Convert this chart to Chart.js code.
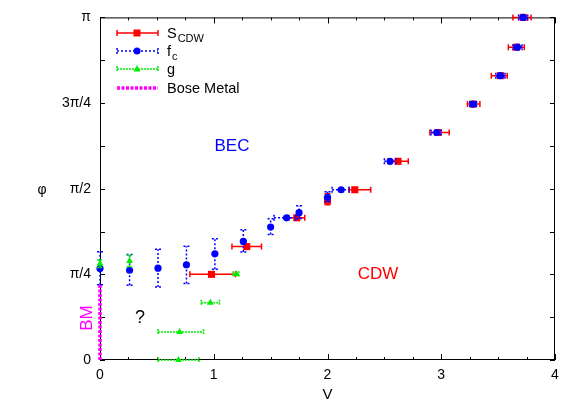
<!DOCTYPE html>
<html>
<head>
<meta charset="utf-8">
<script src="https://cdn.jsdelivr.net/npm/chart.js@4.4.1/dist/chart.umd.min.js"></script>
<style>
html, body { margin: 0; padding: 0; background: #fff; }
</style>
</head>
<body>
<canvas id="phaseChart" width="581" height="407"></canvas>
<script>
// phi values are given in units of pi

// S_CDW
var cdwV     = [0.98, 1.29, 1.73, 2.00, 2.24, 2.62, 2.97, 3.28, 3.52, 3.66, 3.72];
var cdwPhi   = [0.250, 0.331, 0.415, 0.466, 0.497, 0.580, 0.664, 0.747, 0.830, 0.913, 1.000];
var cdwVLo   = [0.79, 1.16, 1.66, 2.00, 2.19, 2.53, 2.90, 3.23, 3.44, 3.59, 3.63];
var cdwVHi   = [1.19, 1.42, 1.80, 2.00, 2.38, 2.71, 3.07, 3.34, 3.58, 3.73, 3.79];
var cdwPhiLo = [0.250, 0.331, 0.415, 0.453, 0.497, 0.580, 0.664, 0.747, 0.830, 0.913, 1.000];
var cdwPhiHi = [0.250, 0.331, 0.415, 0.485, 0.497, 0.580, 0.664, 0.747, 0.830, 0.913, 1.000];

// f_c
var fcV     = [0.00, 0.26, 0.51, 0.76, 1.01, 1.26, 1.50, 1.64, 1.75, 2.00, 2.12, 2.55, 2.96, 3.28, 3.52, 3.67, 3.72];
var fcPhi   = [0.267, 0.262, 0.268, 0.278, 0.310, 0.346, 0.388, 0.415, 0.430, 0.475, 0.497, 0.580, 0.664, 0.747, 0.830, 0.913, 1.000];
var fcVLo   = [0.00, 0.26, 0.51, 0.76, 1.01, 1.26, 1.50, 1.53, 1.75, 2.00, 2.04, 2.50, 2.91, 3.25, 3.48, 3.63, 3.68];
var fcVHi   = [0.00, 0.26, 0.51, 0.76, 1.01, 1.26, 1.50, 1.72, 1.75, 2.00, 2.19, 2.60, 3.00, 3.31, 3.56, 3.71, 3.76];
var fcPhiLo = [0.220, 0.218, 0.213, 0.223, 0.265, 0.315, 0.366, 0.415, 0.413, 0.462, 0.497, 0.580, 0.664, 0.747, 0.830, 0.913, 1.000];
var fcPhiHi = [0.316, 0.308, 0.323, 0.332, 0.354, 0.380, 0.412, 0.415, 0.450, 0.491, 0.497, 0.580, 0.664, 0.747, 0.830, 0.913, 1.000];

// g
var gV     = [0.00, 0.26, 0.69, 0.70, 0.97, 1.20];
var gPhi   = [0.281, 0.289, 0.000, 0.082, 0.167, 0.250];
var gVLo   = [0.00, 0.26, 0.51, 0.51, 0.89, 1.17];
var gVHi   = [0.00, 0.26, 0.87, 0.91, 1.05, 1.22];
var gPhiLo = [0.270, 0.272, 0.000, 0.082, 0.167, 0.250];
var gPhiHi = [0.292, 0.306, 0.000, 0.082, 0.167, 0.250];

// Bose Metal
var bmV   = [0, 0];
var bmPhi = [0, 0.223];

var phiTickValues = [0, 0.25, 0.5, 0.75, 1];
var phiTickLabels = ["0", "π/4", "π/2", "3π/4", "π"];
var vTickLabels   = ["0", "1", "2", "3", "4"];

function pts(xs, ys) {
    return xs.map(function (x, i) { return { x: x, y: ys[i] }; });
}

var RED = "#ff0000", BLUE = "#0000ff", GREEN = "#00ee00", MAGENTA = "#ff00ff";

// error bars drawn under each dataset's own markers
var errorBars = {
    id: "errorBars",
    beforeDatasetDraw: function (chart, args) {
        var ds = chart.data.datasets[args.index];
        if (!ds.err) return;
        var xs = chart.scales.x, ys = chart.scales.y, ctx = chart.ctx;
        var e = ds.err;
        ctx.save();
        ctx.strokeStyle = ds.borderColor;
        ctx.lineWidth = 1.5;
        ctx.setLineDash(e.dash);
        ds.data.forEach(function (p, i) {
            var px = xs.getPixelForValue(p.x), py = ys.getPixelForValue(p.y);
            var x0 = xs.getPixelForValue(e.xLo[i]), x1 = xs.getPixelForValue(e.xHi[i]);
            var y0 = ys.getPixelForValue(e.yLo[i]), y1 = ys.getPixelForValue(e.yHi[i]);
            ctx.beginPath();
            if (Math.abs(x1 - x0) > 1) {
                ctx.moveTo(x0, py); ctx.lineTo(x1, py);
                ctx.moveTo(x0, py - 3); ctx.lineTo(x0, py + 3);
                ctx.moveTo(x1, py - 3); ctx.lineTo(x1, py + 3);
            }
            if (Math.abs(y1 - y0) > 1) {
                ctx.moveTo(px, y0); ctx.lineTo(px, y1);
                ctx.moveTo(px - 3, y0); ctx.lineTo(px + 3, y0);
                ctx.moveTo(px - 3, y1); ctx.lineTo(px + 3, y1);
            }
            ctx.stroke();
        });
        ctx.restore();
    }
};

// border box with inward, mirrored ticks (under the data)
var frame = {
    id: "frame",
    beforeDatasetsDraw: function (chart) {
        var ctx = chart.ctx, a = chart.chartArea;
        var xs = chart.scales.x, ys = chart.scales.y;
        ctx.save();
        ctx.strokeStyle = "#000";
        ctx.lineWidth = 1;
        ctx.strokeRect(a.left + 0.5, a.top + 0.5, a.right - a.left - 1, a.bottom - a.top - 1);
        ctx.beginPath();
        xs.ticks.forEach(function (t) {
            var px = Math.round(xs.getPixelForValue(t.value)) + 0.5;
            var len = Math.abs(t.value - Math.round(t.value)) < 1e-6 ? 6 : 3;
            ctx.moveTo(px, a.bottom); ctx.lineTo(px, a.bottom - len);
            ctx.moveTo(px, a.top); ctx.lineTo(px, a.top + len);
        });
        ys.ticks.forEach(function (t) {
            var py = Math.round(ys.getPixelForValue(t.value)) + 0.5;
            ctx.moveTo(a.left, py); ctx.lineTo(a.left + 5, py);
            ctx.moveTo(a.right, py); ctx.lineTo(a.right - 5, py);
        });
        ctx.stroke();
        ctx.restore();
    }
};

function legendMarker(ctx, style, x, y, color) {
    ctx.fillStyle = color;
    ctx.beginPath();
    if (style === "rect") {
        ctx.rect(x - 3.5, y - 3.5, 7, 7);
    } else if (style === "circle") {
        ctx.arc(x, y, 3.5, 0, Math.PI * 2);
    } else if (style === "triangle") {
        ctx.moveTo(x, y - 4); ctx.lineTo(x + 3.5, y + 2.5); ctx.lineTo(x - 3.5, y + 2.5);
        ctx.closePath();
    }
    ctx.fill();
}

var labelsAndKey = {
    id: "labelsAndKey",
    afterDraw: function (chart) {
        var ctx = chart.ctx;
        ctx.save();
        // axis symbol
        ctx.fillStyle = "#000";
        ctx.font = "14px 'Liberation Sans', Arial, sans-serif";
        ctx.textAlign = "center";
        ctx.textBaseline = "middle";
        ctx.fillText("φ", 42, 190);

        // region labels
        ctx.font = "17px 'Liberation Sans', Arial, sans-serif";
        ctx.fillStyle = BLUE;
        ctx.fillText("BEC", 232, 146);
        ctx.fillStyle = RED;
        ctx.fillText("CDW", 378, 274);
        ctx.fillStyle = "#000";
        ctx.font = "18px 'Liberation Sans', Arial, sans-serif";
        ctx.fillText("?", 140, 318);
        ctx.save();
        ctx.translate(87, 318);
        ctx.rotate(-Math.PI / 2);
        ctx.fillStyle = MAGENTA;
        ctx.font = "17px 'Liberation Sans', Arial, sans-serif";
        ctx.fillText("BM", 0, 0);
        ctx.restore();

        // key
        var rows = [
            { y: 33, color: RED, dash: [], width: 1.5, marker: "rect", caps: true, label: "S", sub: "CDW" },
            { y: 51, color: BLUE, dash: [2, 2], width: 1.5, marker: "circle", caps: true, label: "f", sub: "c" },
            { y: 69, color: GREEN, dash: [2, 1], width: 1.5, marker: "triangle", caps: true, label: "g", sub: "" },
            { y: 88, color: MAGENTA, dash: [3, 1.5], width: 3.5, marker: null, caps: false, label: "Bose Metal", sub: "" }
        ];
        rows.forEach(function (r) {
            ctx.save();
            ctx.strokeStyle = r.color;
            ctx.lineWidth = r.width;
            ctx.setLineDash(r.dash);
            ctx.beginPath();
            ctx.moveTo(117, r.y); ctx.lineTo(158, r.y);
            if (r.caps) {
                ctx.moveTo(117, r.y - 3); ctx.lineTo(117, r.y + 3);
                ctx.moveTo(158, r.y - 3); ctx.lineTo(158, r.y + 3);
            }
            ctx.stroke();
            ctx.restore();
            if (r.marker) legendMarker(ctx, r.marker, 137, r.y, r.color);
            ctx.fillStyle = "#000";
            ctx.textAlign = "left";
            ctx.textBaseline = "alphabetic";
            ctx.font = "14.5px 'Liberation Sans', Arial, sans-serif";
            ctx.fillText(r.label, 167, r.y + 5);
            if (r.sub) {
                var w = ctx.measureText(r.label).width;
                ctx.font = "11px 'Liberation Sans', Arial, sans-serif";
                ctx.fillText(r.sub, 167 + w + 1, r.y + 9);
            }
        });
        ctx.restore();
    }
};

var ctx = document.getElementById("phaseChart").getContext("2d");
var chart = new Chart(ctx, {
    type: "scatter",
    data: {
        datasets: [
            {
                label: "S_CDW",
                data: pts(cdwV, cdwPhi),
                err: { xLo: cdwVLo, xHi: cdwVHi, yLo: cdwPhiLo, yHi: cdwPhiHi, dash: [] },
                borderColor: RED,
                backgroundColor: RED,
                pointStyle: "rect",
                pointRadius: 5,
                pointBorderWidth: 0,
                order: 4,
                clip: false
            },
            {
                label: "f_c",
                data: pts(fcV, fcPhi),
                err: { xLo: fcVLo, xHi: fcVHi, yLo: fcPhiLo, yHi: fcPhiHi, dash: [2, 2] },
                borderColor: BLUE,
                backgroundColor: BLUE,
                pointStyle: "circle",
                pointRadius: 3.6,
                pointBorderWidth: 0,
                order: 3,
                clip: false
            },
            {
                label: "g",
                data: pts(gV, gPhi),
                err: { xLo: gVLo, xHi: gVHi, yLo: gPhiLo, yHi: gPhiHi, dash: [2, 1] },
                borderColor: GREEN,
                backgroundColor: GREEN,
                pointStyle: "triangle",
                pointRadius: 4,
                pointBorderWidth: 0,
                order: 2,
                clip: false
            },
            {
                label: "Bose Metal",
                data: pts(bmV, bmPhi),
                showLine: true,
                borderColor: MAGENTA,
                borderWidth: 3.5,
                borderDash: [3, 1.5],
                borderCapStyle: "butt",
                pointRadius: 0,
                order: 1,
                clip: false
            }
        ]
    },
    options: {
        responsive: false,
        animation: false,
        events: [],
        layout: { padding: { left: 0, right: 26, top: 17, bottom: 0 } },
        plugins: { legend: { display: false }, tooltip: { enabled: false } },
        scales: {
            x: {
                type: "linear",
                min: 0,
                max: 4,
                grid: { display: false, drawTicks: false },
                border: { display: false },
                ticks: {
                    stepSize: 0.25,
                    padding: 7,
                    color: "#000",
                    maxRotation: 0,
                    autoSkip: false,
                    font: { family: "'Liberation Sans', Arial, sans-serif", size: 14 },
                    callback: function (v) {
                        var k = Math.round(v);
                        return Math.abs(v - k) < 1e-6 ? vTickLabels[k] : "";
                    }
                },
                title: {
                    display: true,
                    text: "V",
                    color: "#000",
                    padding: { top: 0, bottom: 3 },
                    font: { family: "'Liberation Sans', Arial, sans-serif", size: 15 }
                },
                afterFit: function (s) { s.height = 47; }
            },
            y: {
                type: "linear",
                min: 0,
                max: 1,
                grid: { display: false, drawTicks: false },
                border: { display: false },
                ticks: {
                    stepSize: 0.125,
                    padding: 9,
                    color: "#000",
                    autoSkip: false,
                    font: { family: "'Liberation Sans', Arial, sans-serif", size: 14 },
                    callback: function (v) {
                        for (var i = 0; i < phiTickValues.length; i++) {
                            if (Math.abs(v - phiTickValues[i]) < 1e-6) return phiTickLabels[i];
                        }
                        return "";
                    }
                },
                afterFit: function (s) { s.width = 100; }
            }
        }
    },
    plugins: [frame, errorBars, labelsAndKey]
});
</script>
</body>
</html>
